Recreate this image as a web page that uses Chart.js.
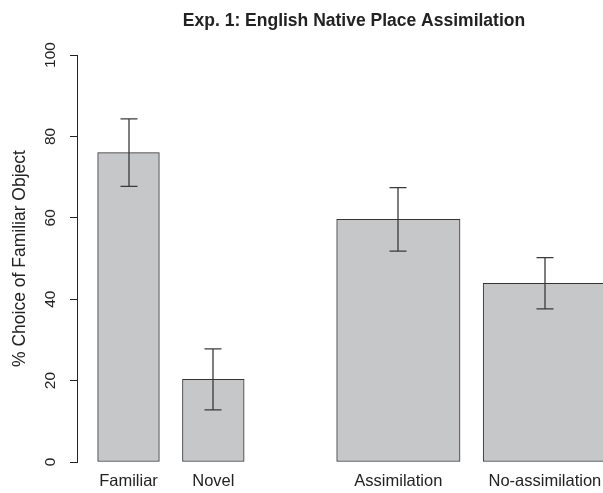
<!DOCTYPE html>
<html>
<head>
<meta charset="utf-8">
<script src="https://cdn.jsdelivr.net/npm/chart.js@4.4.0/dist/chart.umd.min.js"></script>
<style>
  html, body { margin: 0; padding: 0; background: #fff; overflow: hidden; }
  #wrap { width: 603px; height: 493px; overflow: hidden; position: relative; }
  #c { position: absolute; left: 0; top: 0; }
</style>
</head>
<body>
<div id="wrap"><canvas id="c" width="708" height="493"></canvas></div>
<script>
// Data
const categories = ['Familiar', 'Novel', 'Assimilation', 'No-assimilation'];
const percentFamiliar = [76.0, 20.3, 59.6, 43.9];
const errorHalf = [8.3, 7.5, 7.8, 6.3];
const yTickValues = [0, 20, 40, 60, 80, 100];
const chartTitle = 'Exp. 1: English Native Place Assimilation';
const yTitle = '% Choice of Familiar Object';

// Bar layout (barplot-style widths and spacing, in width units)
const barWidths = [1, 1, 2, 2];
const barSpace = [0.375, 0.375, 1.5, 0.375];
const centers = [];
(function () {
  let pos = 0;
  for (let i = 0; i < barWidths.length; i++) {
    pos += barSpace[i];
    centers.push(pos + barWidths[i] / 2);
    pos += barWidths[i];
  }
})();

const FONT = "'Liberation Sans', Arial, Helvetica, sans-serif";
const INK = '#222';
const BAR_FILL = '#c6c7c9';
const BAR_EDGE = '#333';

Chart.defaults.font.family = FONT;
Chart.defaults.color = INK;

const narrowIdx = [0, 1];
const wideIdx = [2, 3];
const pointsFor = idx => idx.map(i => ({ x: centers[i], y: percentFamiliar[i], i }));

// Error bars drawn from the y scale
const errorBars = {
  id: 'errorBars',
  afterDatasetsDraw(chart) {
    const { ctx, scales: { y } } = chart;
    ctx.save();
    ctx.strokeStyle = '#3a3a3a';
    ctx.lineWidth = 1.3;
    chart.data.datasets.forEach((ds, d) => {
      const meta = chart.getDatasetMeta(d);
      meta.data.forEach((bar, k) => {
        const i = ds.data[k].i;
        const x = Math.round(bar.x);
        const yHi = y.getPixelForValue(percentFamiliar[i] + errorHalf[i]);
        const yLo = y.getPixelForValue(percentFamiliar[i] - errorHalf[i]);
        const cap = 8.5;
        ctx.beginPath();
        ctx.moveTo(x, yHi); ctx.lineTo(x, yLo);
        ctx.moveTo(x - cap, yHi); ctx.lineTo(x + cap, yHi);
        ctx.moveTo(x - cap, yLo); ctx.lineTo(x + cap, yLo);
        ctx.stroke();
      });
    });
    ctx.restore();
  }
};

// Rotated y tick labels, read bottom to top
const yTickLabels = {
  id: 'yTickLabels',
  afterDraw(chart) {
    const { ctx, scales: { y } } = chart;
    ctx.save();
    ctx.font = '15.5px ' + FONT;
    ctx.fillStyle = INK;
    ctx.textAlign = 'center';
    ctx.textBaseline = 'middle';
    y.ticks.forEach(t => {
      const py = y.getPixelForValue(t.value);
      ctx.save();
      ctx.translate(y.right - 26.5, py);
      ctx.rotate(-Math.PI / 2);
      ctx.fillText(String(t.value), 0, 0);
      ctx.restore();
    });
    ctx.restore();
  }
};

const chart = new Chart(document.getElementById('c'), {
  type: 'bar',
  data: {
    datasets: [
      { data: pointsFor(narrowIdx), backgroundColor: BAR_FILL, borderColor: BAR_EDGE, borderWidth: 1, borderSkipped: false, grouped: false, barThickness: 60 },
      { data: pointsFor(wideIdx), backgroundColor: BAR_FILL, borderColor: BAR_EDGE, borderWidth: 1, borderSkipped: false, grouped: false, barThickness: 120 }
    ]
  },
  options: {
    responsive: false,
    animation: false,
    devicePixelRatio: 1,
    layout: { padding: 0 },
    plugins: {
      legend: { display: false },
      tooltip: { enabled: false },
      title: {
        display: true,
        text: chartTitle,
        color: INK,
        font: { size: 17.5, weight: 'bold', family: FONT },
        padding: { top: 10.5, bottom: 23.5 }
      }
    },
    scales: {
      x: {
        type: 'linear',
        offset: false,
        min: 0.04,
        max: 10.27,
        grid: { display: false },
        border: { display: false },
        afterBuildTicks(scale) { scale.ticks = centers.map(v => ({ value: v })); },
        afterFit(scale) { scale.height = 31; },
        ticks: {
          autoSkip: false,
          maxRotation: 0,
          minRotation: 0,
          padding: 2,
          color: INK,
          font: { size: 16.5, family: FONT },
          callback: (v, idx) => categories[idx]
        }
      },
      y: {
        min: 0,
        max: 100,
        afterBuildTicks(scale) { scale.ticks = yTickValues.map(v => ({ value: v })); },
        afterFit(scale) { scale.width = 77; },
        grid: { display: true, drawOnChartArea: false, drawTicks: true, tickLength: 7, color: INK, lineWidth: 1 },
        border: { display: true, color: INK, width: 1 },
        ticks: { display: false },
        title: {
          display: true,
          text: yTitle,
          color: INK,
          font: { size: 17.5, family: FONT },
          padding: { top: 10, bottom: 0 }
        }
      }
    }
  },
  plugins: [errorBars, yTickLabels]
});

// Bar widths follow the x scale: one width unit per unit of the axis
const xs = chart.scales.x;
const unitPx = xs.getPixelForValue(1) - xs.getPixelForValue(0);
chart.data.datasets[0].barThickness = barWidths[narrowIdx[0]] * unitPx;
chart.data.datasets[1].barThickness = barWidths[wideIdx[0]] * unitPx;
chart.update('none');
</script>
</body>
</html>
